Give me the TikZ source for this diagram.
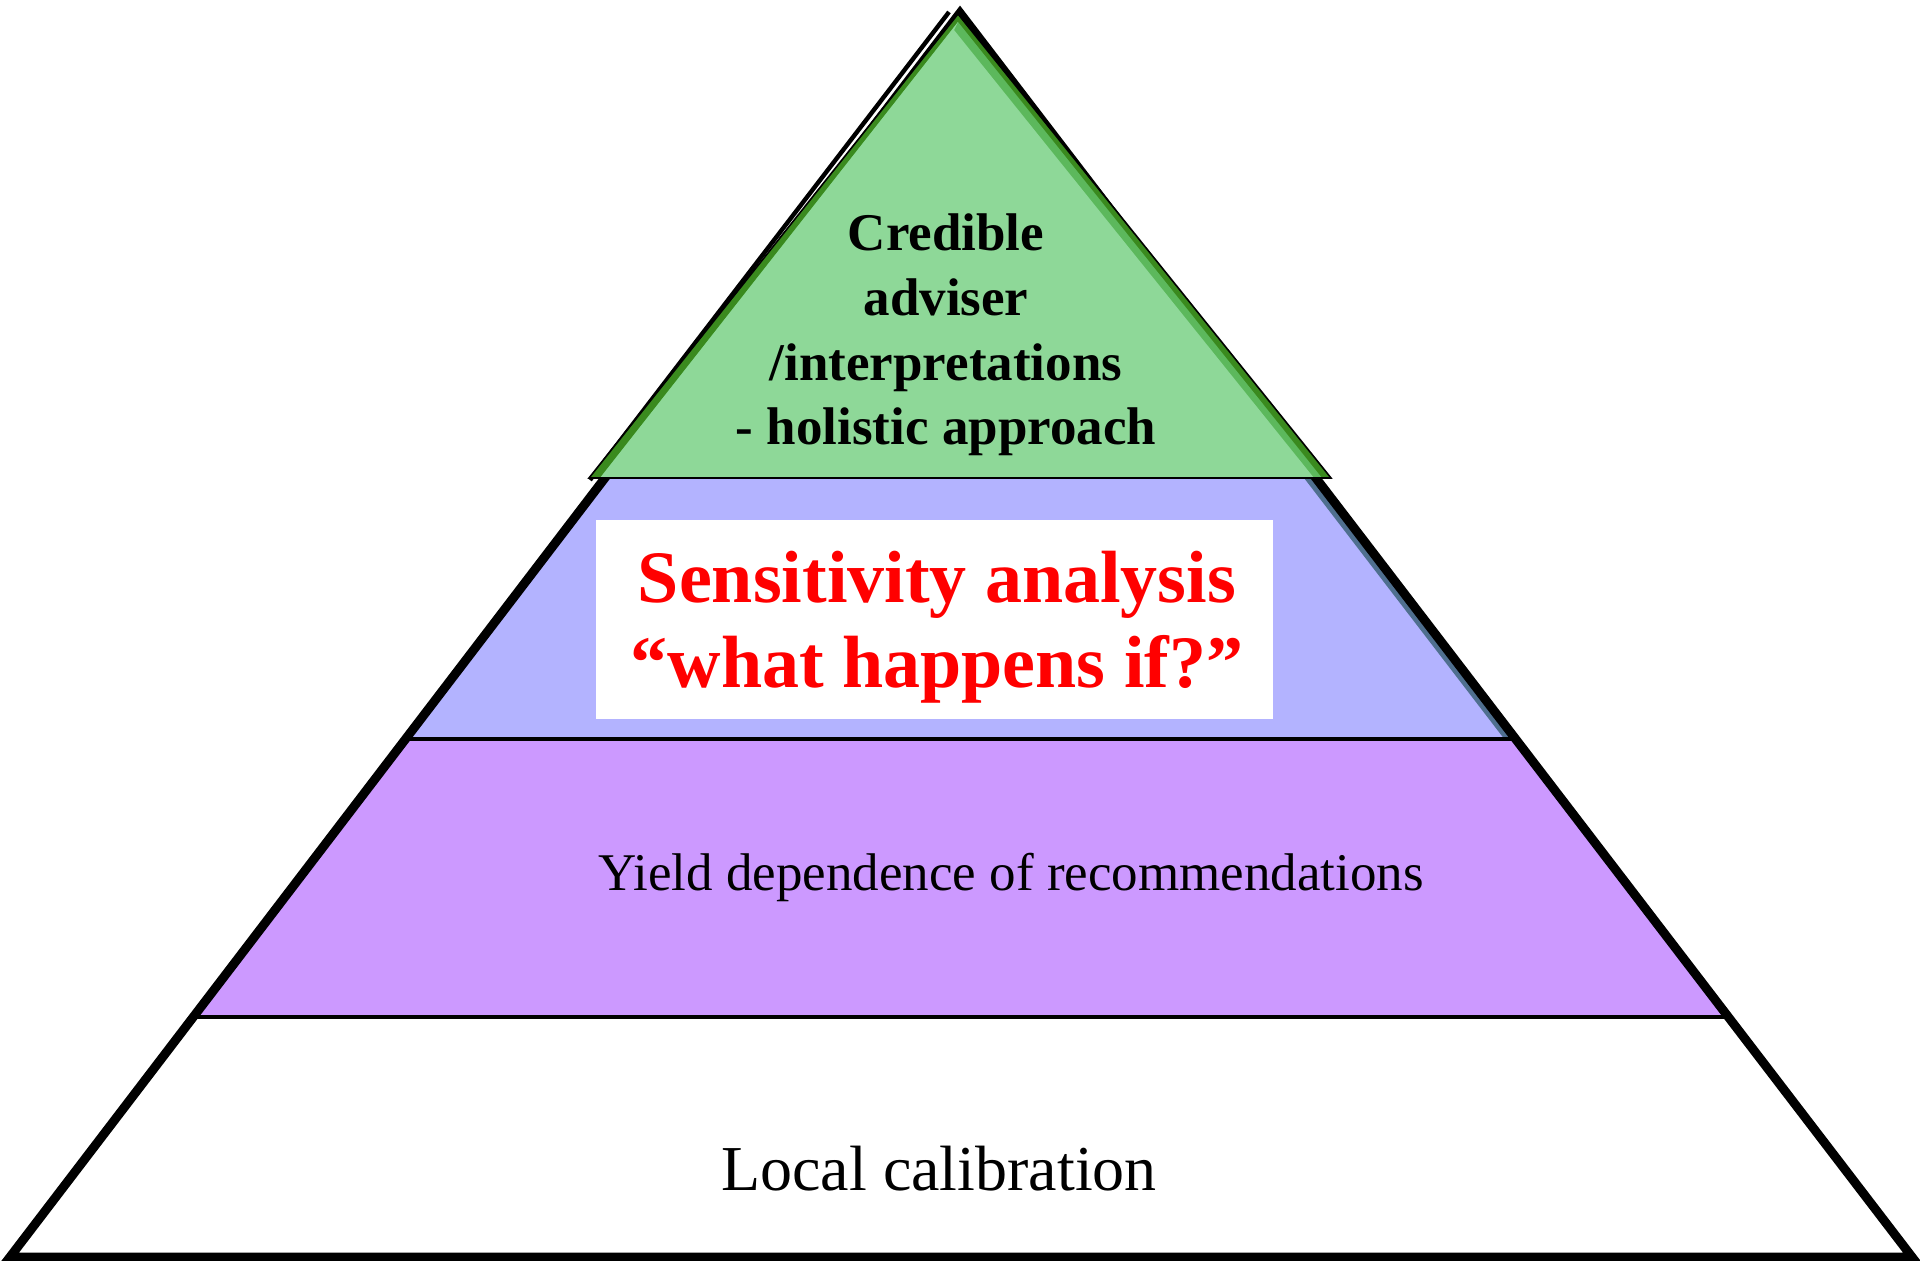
\documentclass[tikz,border=0pt]{standalone}
\usepackage{fontspec}
\setmainfont{Liberation Serif}
\definecolor{bandblue}{HTML}{B3B3FF}
\definecolor{bandpurple}{HTML}{CC99FF}
\definecolor{slate}{HTML}{4F6F8F}
\definecolor{greenlight}{HTML}{8ED898}
\definecolor{greenmid}{HTML}{5CB85C}
\definecolor{greendark}{HTML}{3A8A1E}
\begin{document}
\begin{tikzpicture}[x=0.5pt,y=-0.5pt,
  divider/.style={line width=2.4pt},
  lbl/.style={inner sep=0pt, align=center},
]
\useasboundingbox (0,0) rectangle (1920,1261);
% bands
\fill[bandblue] (604,478) -- (1316,478) -- (1517,740) -- (404,740) -- cycle;
\fill[bandpurple] (404,740) -- (1517,740) -- (1729,1017) -- (193,1017) -- cycle;
\fill[slate] (1304,478) -- (1316,478) -- (1517,740) -- (1505,740) -- cycle;
% dividers
\draw[divider] (404,739) -- (1517,739);
\draw[divider] (193,1017) -- (1729,1017);
% outer triangle
\draw[line width=4.5pt, miter limit=20] (960,13) -- (1912,1257) -- (10,1257) -- cycle;
% left black edge at top (second layer)
\draw[line width=2.2pt] (949,12) -- (590,480);
% green triangle
\filldraw[fill=greendark, draw=black, line width=0.8pt] (958,14) -- (1331,478) -- (589,478) -- cycle;
\fill[greenmid] (958,22) -- (1322,478) -- (600,478) -- cycle;
\fill[greenlight] (958,22) -- (600,478) -- (1314,478) -- (954,30) -- cycle;
\draw[line width=0.8pt] (589,478) -- (1331,478);
% white box
\node[fill=white, minimum width=338.5pt, minimum height=99.5pt, inner sep=0pt] (box) at (934.5,619.5) {};
% texts
\node[lbl, font=\fontsize{26.5pt}{32.3pt}\selectfont\bfseries] (top) at (946,335)
  {Credible\\adviser\\/interpretations\\ - holistic approach};
\node[lbl, text=red, font=\fontsize{37pt}{42.5pt}\selectfont\bfseries] (sens) at (937,627)
  {Sensitivity analysis\\ ``what happens if?''};
\node[lbl, font=\fontsize{26.5pt}{32pt}\selectfont] (yield) at (1011,877)
  {Yield dependence of recommendations};
\node[lbl, font=\fontsize{32pt}{38pt}\selectfont] (local) at (939,1169)
  {Local calibration};
\end{tikzpicture}
\end{document}
